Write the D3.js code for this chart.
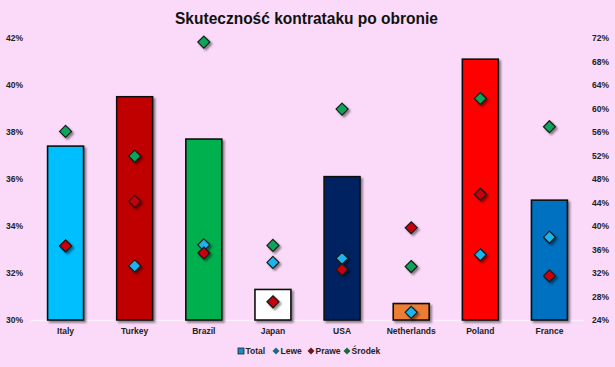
<!DOCTYPE html>
<html><head><meta charset="utf-8">
<script src="https://cdn.jsdelivr.net/npm/d3@7"></script>
<style>
html,body{margin:0;padding:0;background:#FADAF8;}
svg{display:block;}
text{font-family:"Liberation Sans",Arial,sans-serif;}
</style></head>
<body>
<svg id="c" width="615" height="367"></svg>
<script>
const categories = ["Italy","Turkey","Brazil","Japan","USA","Netherlands","Poland","France"];
const total  = [37.4, 39.5, 37.7, 31.3, 36.1, 30.7, 41.1, 35.1];
const lewe   = [36.6, 33.2, 36.8, 33.8, 34.5, 25.3, 35.1, 38.1];
const prawe  = [36.6, 44.2, 35.4, 27.1, 32.6, 39.7, 45.4, 31.5];
const srodek = [56.1, 51.9, 71.3, 36.7, 59.9, 33.1, 61.7, 56.9];
const barColors = ["#00BFFF","#C00000","#00B050","#FFFFFF","#002060","#ED7D31","#FF0000","#0070C0"];
const leftTicks = [30,32,34,36,38,40,42];
const rightTicks = [24,28,32,36,40,44,48,52,56,60,64,68,72];
const seriesNames = ["Total","Lewe","Prawe","Środek"];
const markerColors = {Lewe:"#1FB4EE", Prawe:"#C8000A", "Środek":"#0EA55A"};
const legendColors = {Total:"#1A8AD0", Lewe:"#1E6A80", Prawe:"#6A1A1A", "Środek":"#1A6A40"};

const svg = d3.select("#c");
const W = 615, H = 367;
svg.append("rect").attr("width",W).attr("height",H).attr("fill","#FADAF8");

const defs = svg.append("defs");
const f = defs.append("filter").attr("id","sh").attr("x","-30%").attr("y","-30%").attr("width","160%").attr("height","160%");
f.append("feGaussianBlur").attr("in","SourceAlpha").attr("stdDeviation",1.2).attr("result","b");
f.append("feOffset").attr("in","b").attr("dx",1.5).attr("dy",1.5).attr("result","o");
f.append("feComponentTransfer").attr("in","o").attr("result","o2").append("feFuncA").attr("type","linear").attr("slope",0.45);
const m = f.append("feMerge"); m.append("feMergeNode").attr("in","o2"); m.append("feMergeNode").attr("in","SourceGraphic");

const plot = {left:31, right:584, top:38, bottom:320};
const x = d3.scaleBand().domain(categories).range([plot.left, plot.right]).paddingInner(0.48).paddingOuter(0.24);
const yL = d3.scaleLinear().domain([30,42]).range([plot.bottom, plot.top]);
const yR = d3.scaleLinear().domain([24,72]).range([plot.bottom, plot.top]);

// title
svg.append("text").attr("x",175).attr("y",24)
  .attr("font-weight","bold").attr("font-size",16).attr("fill","#111")
  .attr("textLength",263).attr("lengthAdjust","spacingAndGlyphs")
  .text("Skuteczność kontrataku po obronie");

// baseline
svg.append("line").attr("x1",plot.left).attr("x2",plot.right).attr("y1",plot.bottom+0.5).attr("y2",plot.bottom+0.5)
  .attr("stroke","#FCEEFB").attr("stroke-width",1.5);

// axes
const axL = svg.append("g").attr("transform",`translate(${plot.left-8},0)`)
  .call(d3.axisLeft(yL).tickValues(leftTicks).tickSize(0).tickPadding(0).tickFormat(d=>d+"%"));
const axR = svg.append("g").attr("transform",`translate(${plot.right+8},0)`)
  .call(d3.axisRight(yR).tickValues(rightTicks).tickSize(0).tickPadding(0).tickFormat(d=>d+"%"));
[axL,axR].forEach(a=>{a.select(".domain").remove(); a.selectAll("text").attr("font-size",8.5).attr("font-weight","bold").attr("fill","#222").attr("font-family","'Liberation Sans',Arial,sans-serif");});

const axX = svg.append("g").attr("transform",`translate(0,${plot.bottom})`)
  .call(d3.axisBottom(x).tickSize(0).tickPadding(8));
axX.select(".domain").remove();
axX.selectAll("text").attr("font-size",8.5).attr("font-weight","bold").attr("fill","#222").attr("font-family","'Liberation Sans',Arial,sans-serif");

// bars
svg.append("g").selectAll("rect").data(categories).join("rect")
  .attr("x",d=>x(d)).attr("width",x.bandwidth())
  .attr("y",(d,i)=>yL(total[i])).attr("height",(d,i)=>yL(30)-yL(total[i]))
  .attr("fill",(d,i)=>barColors[i]).attr("stroke","#111").attr("stroke-width",1.6)
  .attr("filter","url(#sh)");

// markers
function diamond(g, cx, cy, s, fill){
  return g.append("path").attr("d",`M${cx},${cy-s}L${cx+s},${cy}L${cx},${cy+s}L${cx-s},${cy}Z`)
    .attr("fill",fill).attr("stroke","#1a1a1a").attr("stroke-width",1.2);
}
const mg = svg.append("g").attr("filter","url(#sh)");
[["Lewe",lewe],["Prawe",prawe],["Środek",srodek]].forEach(([n,arr])=>{
  arr.forEach((v,i)=>{
    const cx = x(categories[i]) + x.bandwidth()/2;
    diamond(mg, cx, yR(v), 6, markerColors[n]);
  });
});

// legend
const lg = svg.append("g");
const lx = [241, 276, 311, 347];
seriesNames.forEach((n,i)=>{
  const cx = lx[i], cy = 351;
  if(n==="Total"){
    lg.append("rect").attr("x",cx-3).attr("y",cy-3).attr("width",6).attr("height",6)
      .attr("fill",legendColors[n]).attr("stroke","#222").attr("stroke-width",0.8);
  } else {
    lg.append("path").attr("d",`M${cx},${cy-3.5}L${cx+3.5},${cy}L${cx},${cy+3.5}L${cx-3.5},${cy}Z`).attr("fill",legendColors[n]);
  }
  lg.append("text").attr("x",cx+4.5).attr("y",cy+3).attr("font-size",8.5).attr("font-weight","bold").attr("fill","#222").text(n);
});
</script>
</body></html>
